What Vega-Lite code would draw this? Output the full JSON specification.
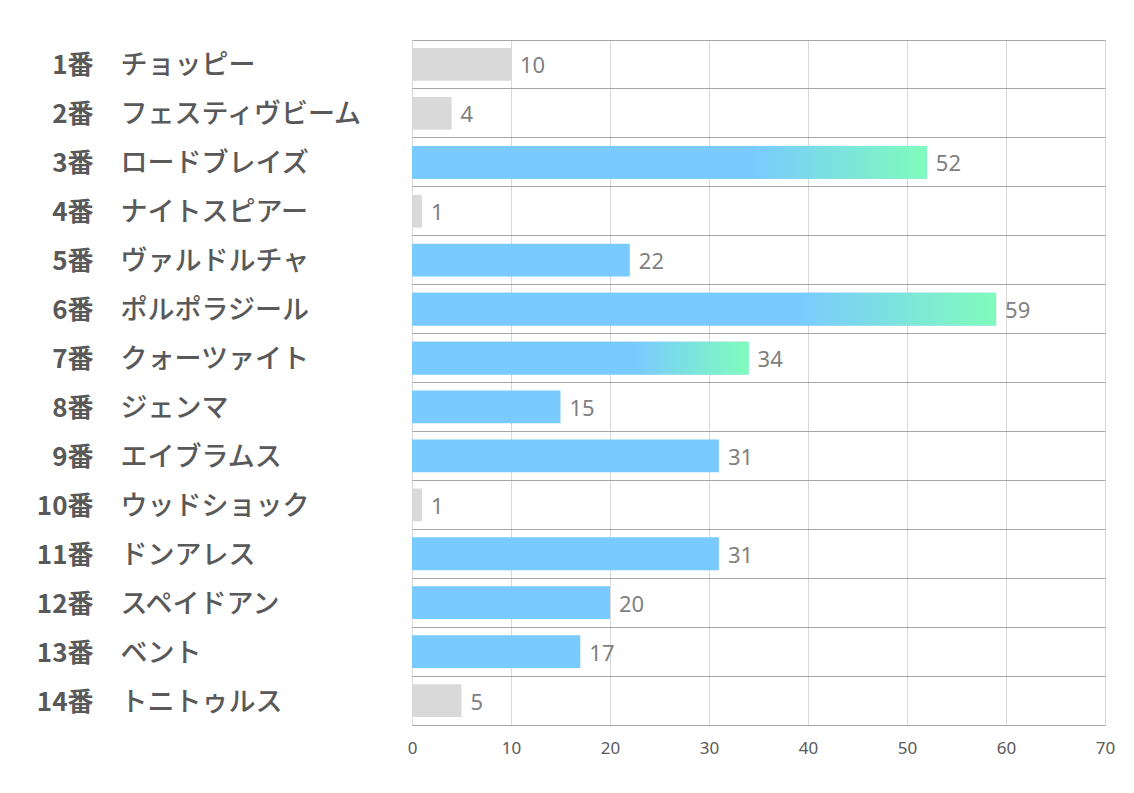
{
  "$schema": "https://vega.github.io/schema/vega-lite/v6.json",
  "width": 693,
  "height": 685,
  "autosize": {"type": "none"},
  "padding": {"left": 412, "top": 40, "right": 29, "bottom": 68},
  "background": "white",
  "config": {"view": {"stroke": null}},
  "data": {
    "values": [
      {"num": 1, "name": "チョッピー", "value": 10, "type": "gray"},
      {"num": 2, "name": "フェスティヴビーム", "value": 4, "type": "gray"},
      {"num": 3, "name": "ロードブレイズ", "value": 52, "type": "grad"},
      {"num": 4, "name": "ナイトスピアー", "value": 1, "type": "gray"},
      {"num": 5, "name": "ヴァルドルチャ", "value": 22, "type": "blue"},
      {"num": 6, "name": "ポルポラジール", "value": 59, "type": "grad"},
      {"num": 7, "name": "クォーツァイト", "value": 34, "type": "grad"},
      {"num": 8, "name": "ジェンマ", "value": 15, "type": "blue"},
      {"num": 9, "name": "エイブラムス", "value": 31, "type": "blue"},
      {"num": 10, "name": "ウッドショック", "value": 1, "type": "gray"},
      {"num": 11, "name": "ドンアレス", "value": 31, "type": "blue"},
      {"num": 12, "name": "スペイドアン", "value": 20, "type": "blue"},
      {"num": 13, "name": "ベント", "value": 17, "type": "blue"},
      {"num": 14, "name": "トニトゥルス", "value": 5, "type": "gray"}
    ]
  },
  "encoding": {
    "x": {
      "field": "value",
      "type": "quantitative",
      "scale": {"domain": [0, 70], "nice": false},
      "axis": {
        "title": null,
        "values": [0, 10, 20, 30, 40, 50, 60, 70],
        "grid": true,
        "gridColor": "#d9d9d9",
        "domainColor": "#a6a6a6",
        "ticks": false,
        "labelFlush": false,
        "labelPadding": 15,
        "labelFont": "Noto Sans",
        "labelFontSize": 17,
        "labelColor": "#595959"
      }
    }
  },
  "layer": [
    {
      "mark": {"type": "bar", "height": {"band": 0.67}},
      "encoding": {
        "y": {
          "field": "num",
          "type": "ordinal",
          "sort": "ascending",
          "scale": {"paddingInner": 0, "paddingOuter": 0},
          "axis": {
            "title": null,
            "domain": false,
            "ticks": false,
            "tickSize": 0,
            "grid": true,
            "gridColor": "#a6a6a6",
            "gridWidth": 1,
            "bandPosition": 0,
            "labelAlign": "right",
            "labelPadding": 319,
            "labelOffset": 2,
            "labelLimit": 500,
            "labelFont": "Noto Sans CJK JP",
            "labelFontWeight": "bold",
            "labelFontSize": 26,
            "labelColor": "#595959",
            "labelExpr": "datum.value + '番'"
          }
        },
        "color": {
          "field": "type",
          "type": "nominal",
          "scale": {"domain": ["gray", "blue", "grad"], "range": ["#d9d9d9", "#79caff", "#79caff"]},
          "legend": null
        }
      }
    },
    {
      "transform": [{"filter": "datum.type === 'grad'"}],
      "mark": {
        "type": "bar",
        "height": {"band": 0.67},
        "color": {
          "gradient": "linear",
          "x1": 0, "y1": 0, "x2": 1, "y2": 0,
          "stops": [
            {"offset": 0, "color": "#79caff"},
            {"offset": 0.66, "color": "#79caff"},
            {"offset": 1, "color": "#7ffcbb"}
          ]
        }
      },
      "encoding": {
        "y": {"field": "num", "type": "ordinal", "sort": "ascending", "axis": null}
      }
    },
    {
      "mark": {
        "type": "text",
        "align": "left",
        "baseline": "middle",
        "dx": 9,
        "dy": 2,
        "font": "Noto Sans",
        "fontSize": 22,
        "color": "#7f7f7f"
      },
      "encoding": {
        "y": {
          "field": "num",
          "type": "ordinal",
          "sort": "ascending",
          "axis": {
            "title": null,
            "orient": "left",
            "domain": false,
            "ticks": false,
            "tickSize": 0,
            "grid": false,
            "labelAlign": "left",
            "labelPadding": 292,
            "labelOffset": 2,
            "labelLimit": 500,
            "labelFont": "Noto Sans CJK JP",
            "labelFontWeight": 500,
            "labelFontSize": 27,
            "labelColor": "#595959",
            "labelExpr": "['','チョッピー','フェスティヴビーム','ロードブレイズ','ナイトスピアー','ヴァルドルチャ','ポルポラジール','クォーツァイト','ジェンマ','エイブラムス','ウッドショック','ドンアレス','スペイドアン','ベント','トニトゥルス'][datum.value]"
          }
        },
        "text": {"field": "value", "type": "quantitative"}
      }
    }
  ],
  "resolve": {"axis": {"y": "independent"}}
}
